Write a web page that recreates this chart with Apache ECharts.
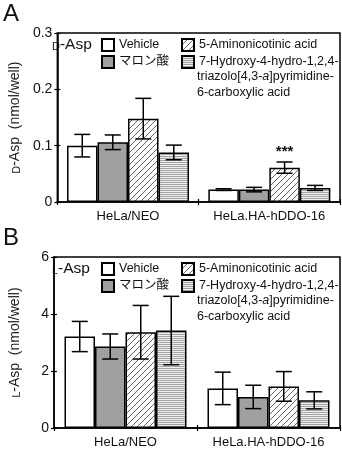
<!DOCTYPE html>
<html>
<head>
<meta charset="utf-8">
<script src="https://cdn.jsdelivr.net/npm/echarts@6/dist/echarts.min.js"></script>
<style>
  html, body { margin: 0; padding: 0; background: #fff; }
  #chart { width: 342px; height: 451px; }
</style>
</head>
<body>
<div id="chart"></div>
<script>
// Cell lines on the x axis
const categories = ['HeLa/NEO', 'HeLa.HA-hDDO-16'];

// Treatments (one bar series each)
const seriesNames = [
  'Vehicle',
  'マロン酸',
  '5-Aminonicotinic acid',
  '7-Hydroxy-4-hydro-1,2,4-triazolo[4,3-a]pyrimidine-6-carboxylic acid'
];

// D-Asp content (nmol/well): mean and error per treatment, per cell line
const dAspVehicle = [0.100, 0.022];
const dAspMalonate = [0.106, 0.022];
const dAspAmino = [0.148, 0.061];
const dAspHydroxy = [0.088, 0.025];
const dAspVehicleErr = [0.020, 0.0015];
const dAspMalonateErr = [0.013, 0.004];
const dAspAminoErr = [0.036, 0.010];
const dAspHydroxyErr = [0.013, 0.0045];
const dAspSig = [['', ''], ['', ''], ['', '***'], ['', '']];

// L-Asp content (nmol/well)
const lAspVehicle = [3.21, 1.39];
const lAspMalonate = [2.86, 1.09];
const lAspAmino = [3.36, 1.46];
const lAspHydroxy = [3.42, 0.97];
const lAspVehicleErr = [0.53, 0.57];
const lAspMalonateErr = [0.44, 0.41];
const lAspAminoErr = [0.94, 0.52];
const lAspHydroxyErr = [1.20, 0.30];
const lAspSig = [['', ''], ['', ''], ['', ''], ['', '']];

// Axis ticks
const dAspTicks = { min: 0, max: 0.3, interval: 0.1 };
const lAspTicks = { min: 0, max: 6, interval: 2 };

const FONT = '"Liberation Sans", Arial, "Noto Sans CJK JP", sans-serif';

// Fill patterns
function diagPattern() {
  const c = document.createElement('canvas');
  c.width = 6; c.height = 6;
  const g = c.getContext('2d');
  g.fillStyle = '#fff'; g.fillRect(0, 0, 6, 6);
  g.strokeStyle = '#555'; g.lineWidth = 0.9;
  g.beginPath();
  g.moveTo(0, 6); g.lineTo(6, 0);
  g.moveTo(-1, 1); g.lineTo(1, -1);
  g.moveTo(5, 7); g.lineTo(7, 5);
  g.stroke();
  return { image: c, repeat: 'repeat' };
}
function horizPattern() {
  const c = document.createElement('canvas');
  c.width = 4; c.height = 2;
  const g = c.getContext('2d');
  g.fillStyle = '#efefef'; g.fillRect(0, 0, 4, 2);
  g.fillStyle = '#a3a3a3'; g.fillRect(0, 0, 4, 1);
  return { image: c, repeat: 'repeat' };
}
const fills = ['#ffffff', '#a0a0a0', diagPattern(), horizPattern()];

const BAR_W = 30.5;

const panels = [
  {
    top: 33, height: 169, ticks: dAspTicks, letter: 'D',
    means: [dAspVehicle, dAspMalonate, dAspAmino, dAspHydroxy],
    errs: [dAspVehicleErr, dAspMalonateErr, dAspAminoErr, dAspHydroxyErr],
    sig: dAspSig,
    fmt: v => (v === 0 ? '0' : v.toFixed(1))
  },
  {
    top: 257, height: 171, ticks: lAspTicks, letter: 'L',
    means: [lAspVehicle, lAspMalonate, lAspAmino, lAspHydroxy],
    errs: [lAspVehicleErr, lAspMalonateErr, lAspAminoErr, lAspHydroxyErr],
    sig: lAspSig,
    fmt: v => String(v)
  }
];

const grid = [], xAxis = [], yAxis = [], series = [], legend = [], graphic = [];

panels.forEach((p, pi) => {
  grid.push({
    left: 45, top: p.top, width: 295, height: p.height,
    show: true, borderColor: '#000', borderWidth: 1.5, backgroundColor: 'transparent'
  });
  const ax = pi * 2;
  // category axis with outward ticks and labels
  xAxis.push({
    type: 'category', gridIndex: pi, data: categories, position: 'bottom',
    axisLine: { lineStyle: { color: '#000', width: 1.5 } },
    axisTick: { show: true, length: 3, lineStyle: { color: '#000', width: 1.2 } },
    axisLabel: { color: '#111', fontSize: 13, fontFamily: FONT, margin: 8, interval: 0 }
  });
  // companion axis drawing the inner half of the ticks
  xAxis.push({
    type: 'category', gridIndex: pi, data: categories, position: 'bottom',
    axisLine: { show: false },
    axisTick: { show: true, inside: true, length: 3, lineStyle: { color: '#000', width: 1.2 } },
    axisLabel: { show: false }
  });
  yAxis.push({
    type: 'value', gridIndex: pi, position: 'left',
    min: p.ticks.min, max: p.ticks.max, interval: p.ticks.interval,
    splitLine: { show: false },
    axisLine: { show: true, lineStyle: { color: '#000', width: 1.5 } },
    axisTick: { show: true, length: 3, lineStyle: { color: '#000', width: 1.2 } },
    axisLabel: { color: '#111', fontSize: 14, fontFamily: FONT, margin: 5, formatter: p.fmt },
    name: '{sc|' + p.letter + '}{t|-Asp  (nmol/well)}',
    nameLocation: 'middle', nameGap: 32, nameRotate: 90,
    nameTextStyle: {
      color: '#222', fontFamily: FONT,
      rich: {
        sc: { fontSize: 10.5, fontFamily: FONT, color: '#222', verticalAlign: 'bottom' },
        t: { fontSize: 14, fontFamily: FONT, color: '#222', verticalAlign: 'bottom' }
      }
    }
  });
  yAxis.push({
    type: 'value', gridIndex: pi, position: 'left',
    min: p.ticks.min, max: p.ticks.max, interval: p.ticks.interval,
    splitLine: { show: false },
    axisLine: { show: false },
    axisTick: { show: true, inside: true, length: 3, lineStyle: { color: '#000', width: 1.2 } },
    axisLabel: { show: false }
  });

  seriesNames.forEach((name, i) => {
    series.push({
      type: 'bar', name, xAxisIndex: ax, yAxisIndex: ax,
      data: p.means[i], barWidth: BAR_W, barGap: '0%',
      itemStyle: { color: fills[i], borderColor: '#000', borderWidth: 1.5 },
      emphasis: { disabled: true }
    });
  });

  // error bars (and significance marks) over each bar
  seriesNames.forEach((name, i) => {
    const data = categories.map((c, ci) => [ci, p.means[i][ci], p.errs[i][ci], p.sig[i][ci]]);
    series.push({
      type: 'custom', xAxisIndex: ax, yAxisIndex: ax, z: 5,
      encode: { x: 0, y: 1 },
      data,
      renderItem(params, api) {
        const x = api.value(0), m = api.value(1), e = api.value(2);
        const s = data[params.dataIndex][3];
        const off = (i - 1.5) * BAR_W;
        const top = api.coord([x, m + e]);
        const bot = api.coord([x, m - e]);
        const cx = top[0] + off;
        const hw = 8;
        const st = { stroke: '#000', lineWidth: 1.5 };
        const children = [
          { type: 'line', shape: { x1: cx, y1: top[1], x2: cx, y2: bot[1] }, style: st },
          { type: 'line', shape: { x1: cx - hw, y1: top[1], x2: cx + hw, y2: top[1] }, style: st },
          { type: 'line', shape: { x1: cx - hw, y1: bot[1], x2: cx + hw, y2: bot[1] }, style: st }
        ];
        if (s) {
          children.push({
            type: 'text',
            style: {
              text: s, x: cx, y: top[1] - 3, align: 'center', verticalAlign: 'bottom',
              fontSize: 15, fontWeight: 'bold', fontFamily: FONT, fill: '#111'
            }
          });
        }
        return { type: 'group', children };
      }
    });
  });

  const legendText = { color: '#111', fontSize: 12.5, fontFamily: FONT, lineHeight: 16 };
  legend.push({
    left: 101, top: p.top + 4, orient: 'vertical',
    itemWidth: 12, itemHeight: 12, itemGap: 1, icon: 'rect',
    selectedMode: false, padding: 0,
    data: [seriesNames[0], seriesNames[1]],
    textStyle: legendText
  });
  legend.push({
    left: 181, top: p.top + 4, orient: 'vertical',
    itemWidth: 12, itemHeight: 12, itemGap: 1, icon: 'rect',
    selectedMode: false, padding: 0,
    data: [seriesNames[2], seriesNames[3]],
    formatter: n => (n === seriesNames[3] ? '7-Hydroxy-4-hydro-1,2,4-' : n),
    textStyle: legendText
  });

  // continuation lines of the long compound name
  graphic.push({
    type: 'text', left: 197, top: p.top + 37,
    style: {
      text: '{n|triazolo[4,3-}{i|a}{n|]pyrimidine-}\n{n|6-carboxylic acid}',
      rich: {
        n: { fontSize: 12.5, fontFamily: FONT, fill: '#111', lineHeight: 16 },
        i: { fontSize: 12.5, fontFamily: FONT, fill: '#111', fontStyle: 'italic', lineHeight: 16 }
      }
    }
  });
  // in-plot analyte title
  graphic.push({
    type: 'text', left: 52, top: p.top + 4,
    style: {
      text: '{sc|' + p.letter + '}{t|-Asp}',
      rich: {
        sc: { fontSize: 11, fontFamily: FONT, fill: '#111', verticalAlign: 'bottom' },
        t: { fontSize: 15.5, fontFamily: FONT, fill: '#111', verticalAlign: 'bottom' }
      }
    }
  });
  // panel letter
  graphic.push({
    type: 'text', left: 3, top: p.top - 31,
    style: { text: pi === 0 ? 'A' : 'B', fontSize: 24, fontFamily: FONT, fill: '#111' }
  });
});

const chart = echarts.init(document.getElementById('chart'), null, { renderer: 'canvas' });
chart.setOption({
  animation: false,
  backgroundColor: '#fff',
  grid, xAxis, yAxis, series, legend, graphic
});
</script>
</body>
</html>
